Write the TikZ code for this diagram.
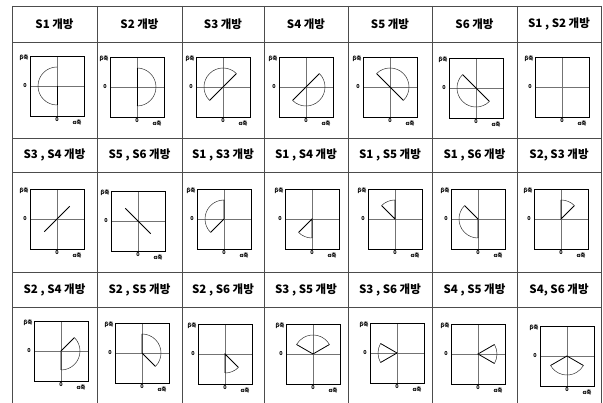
\documentclass[tikz,border=0pt]{standalone}
\usepackage{fontspec}
\setmainfont{Noto Sans CJK KR}
\newcommand{\plotcell}[4]{%
  \begin{scope}[shift={(#2,#3)}]
    \draw[paxis] (-27pt,0pt) -- (27pt,0pt);
    \draw[paxis] (0pt,-30pt) -- (0pt,30pt);
    #4
    \draw[pbox] (-27pt,-30pt) rectangle (27pt,30pt);
    \node[albl] (#1b) at (-33pt,28pt) {β축};
    \node[albl] (#1y) at (-32pt,0pt) {0};
    \node[albl] (#1x) at (0pt,-34pt) {0};
    \node[albl] (#1a) at (20pt,-36pt) {α축};
  \end{scope}}
\newcommand{\halfdisk}[2]{%
  \draw[arcst] (#1:19pt) arc[start angle=#1,end angle=#2,radius=19pt];
  \draw[radst] (#1:19pt) -- (#2:19pt);}
\newcommand{\sect}[2]{%
  \draw[arcst] (#1:19pt) arc[start angle=#1,end angle=#2,radius=19pt];
  \draw[radst] (#1:19pt) -- (0pt,0pt) -- (#2:19pt);}
\begin{document}
\begin{tikzpicture}[x=1pt,y=-1pt,
  grid/.style={black!70,line width=0.6pt},
  hdr/.style={font=\fontsize{11.5}{12}\selectfont\bfseries, inner sep=0pt},
  pbox/.style={black, line width=0.9pt},
  paxis/.style={black!55, line width=0.5pt},
  arcst/.style={black!80, line width=0.5pt},
  radst/.style={black, line width=0.8pt},
  albl/.style={font=\fontsize{5.5}{6}\selectfont\bfseries, inner sep=0pt}]
\useasboundingbox (0,0) rectangle (603,403);
\fill[white] (0,0) rectangle (603,403);
% table grid
\foreach \x in {12,97,182,264,348,432,517,601} \draw[grid] (\x,6) -- (\x,403);
\foreach \y in {6,42,138,172,272,307} \draw[grid] (12,\y) -- (601,\y);
% headers row 1
\node[hdr] (h11) at (54.5,24) {S1 개방};
\node[hdr] (h12) at (139.5,24) {S2 개방};
\node[hdr] (h13) at (223,24) {S3 개방};
\node[hdr] (h14) at (306,24) {S4 개방};
\node[hdr] (h15) at (390,24) {S5 개방};
\node[hdr] (h16) at (474.5,24) {S6 개방};
\node[hdr] (h17) at (559,24) {S1 , S2 개방};
% headers row 2
\node[hdr] (h21) at (54.5,155) {S3 , S4 개방};
\node[hdr] (h22) at (139.5,155) {S5 , S6 개방};
\node[hdr] (h23) at (223,155) {S1 , S3 개방};
\node[hdr] (h24) at (306,155) {S1 , S4 개방};
\node[hdr] (h25) at (390,155) {S1 , S5 개방};
\node[hdr] (h26) at (474.5,155) {S1 , S6 개방};
\node[hdr] (h27) at (559,155) {S2, S3 개방};
% headers row 3
\node[hdr] (h31) at (54.5,289.5) {S2 , S4 개방};
\node[hdr] (h32) at (139.5,289.5) {S2 , S5 개방};
\node[hdr] (h33) at (223,289.5) {S2 , S6 개방};
\node[hdr] (h34) at (306,289.5) {S3 , S5 개방};
\node[hdr] (h35) at (390,289.5) {S3 , S6 개방};
\node[hdr] (h36) at (474.5,289.5) {S4 , S5 개방};
\node[hdr] (h37) at (559,289.5) {S4, S6 개방};
% plots row 1
\plotcell{p11}{57}{86}{\draw[arcst] (90:19pt) arc[start angle=90,end angle=270,radius=19pt]; \draw[radst] (0pt,0pt) -- (270:19pt);}
\plotcell{p12}{137}{87}{\halfdisk{-90}{90}}
\plotcell{p13}{223}{87}{\halfdisk{45}{225}}
\plotcell{p14}{306}{87}{\halfdisk{-135}{45}}
\plotcell{p15}{390}{87}{\halfdisk{-45}{135}}
\plotcell{p16}{476}{88}{\halfdisk{135}{315}}
\plotcell{p17}{562}{87}{}
% plots row 2
\plotcell{p21}{57}{219}{\draw[radst] (225:18pt) -- (45:18pt);}
\plotcell{p22}{138}{221}{\draw[radst] (135:18pt) -- (-45:18pt);}
\plotcell{p23}{224}{219}{\sect{90}{225}}
\plotcell{p24}{312}{219}{\sect{225}{270}}
\plotcell{p25}{395}{219}{\sect{90}{135}}
\plotcell{p26}{478}{219}{\sect{135}{270}}
\plotcell{p27}{561}{219}{\sect{45}{90}}
% plots row 3
\plotcell{p31}{61}{351}{\sect{-90}{45}}
\plotcell{p32}{142}{353}{\sect{-45}{90}}
\plotcell{p33}{225}{354}{\sect{-90}{-45}}
\plotcell{p34}{313}{354}{\sect{30}{150}}
\plotcell{p35}{397}{353}{\sect{150}{210}}
\plotcell{p36}{478}{354}{\sect{-30}{30}}
\plotcell{p37}{567}{356}{\sect{210}{330}}
\end{tikzpicture}
\end{document}
